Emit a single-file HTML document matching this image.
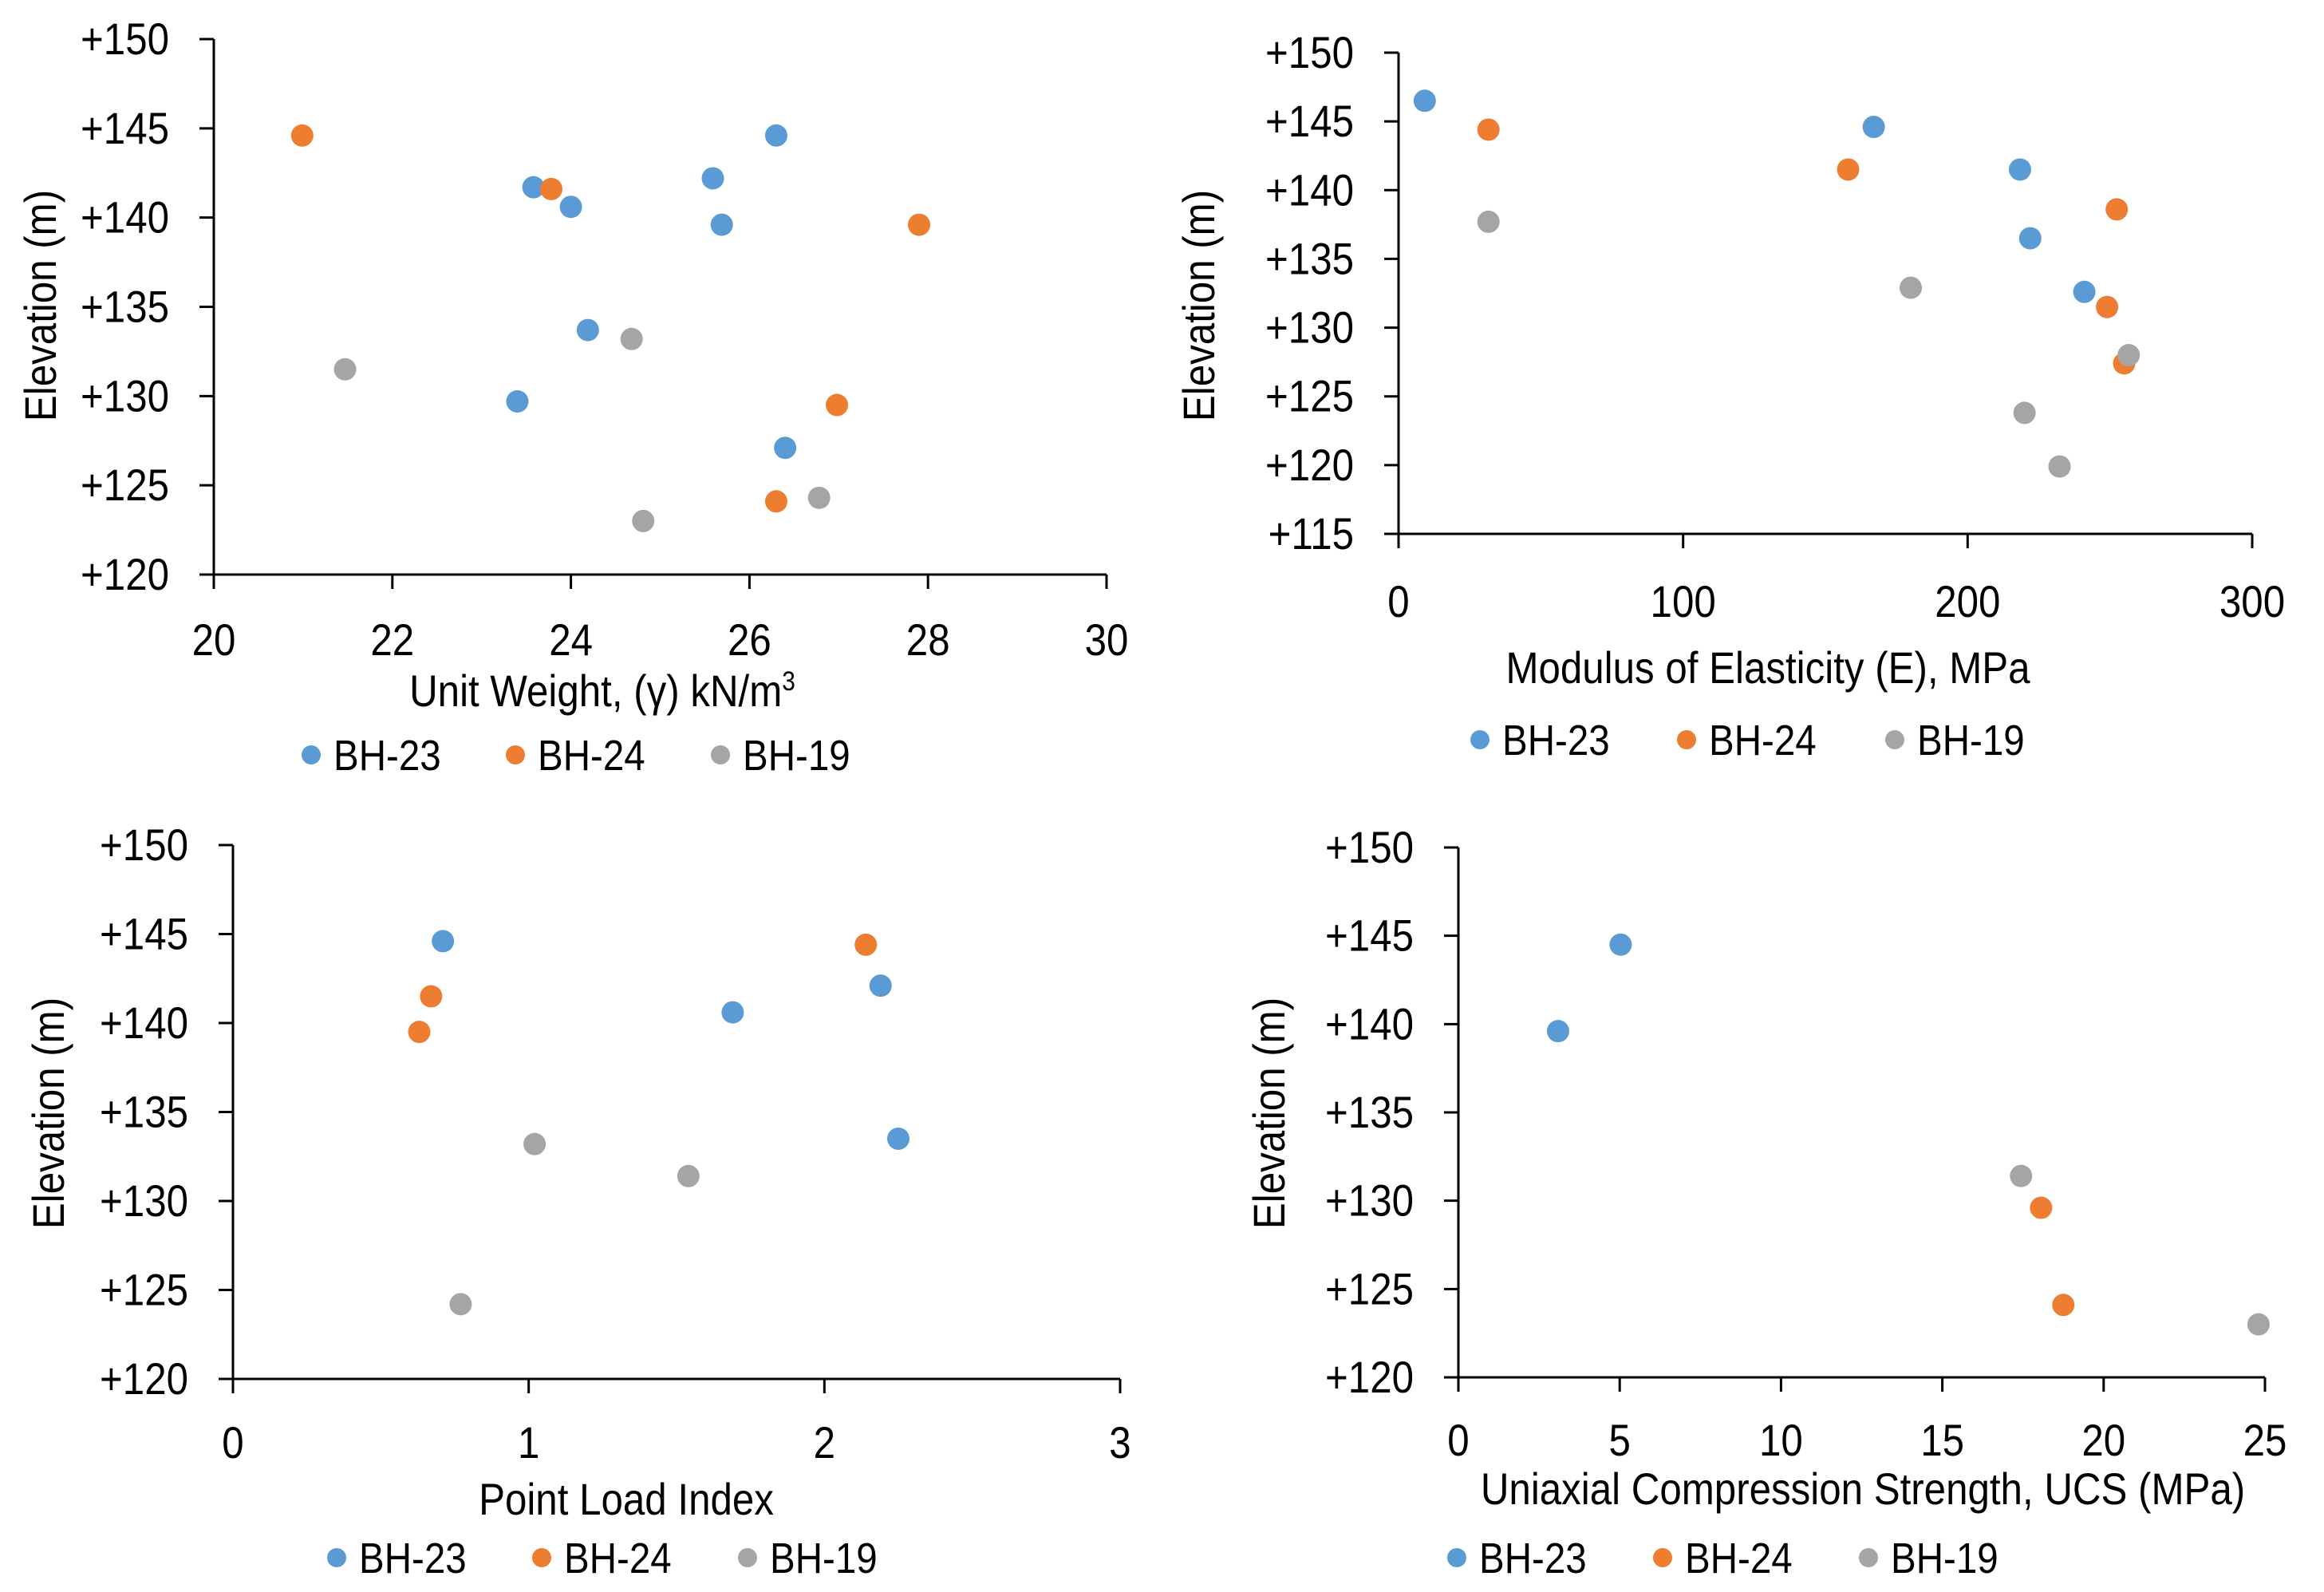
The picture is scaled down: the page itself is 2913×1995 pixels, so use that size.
<!DOCTYPE html>
<html><head><meta charset="utf-8"><style>
html,body{margin:0;padding:0;background:#fff;}
svg{display:block;font-family:"Liberation Sans",sans-serif;}
</style></head><body>
<svg id="s" width="2913" height="1995" viewBox="0 0 2913 1995"></svg>
<script>
// ---- Chart 1: Unit weight ----
const uwXTicks = [20,22,24,26,28,30];
const uwYTicks = [120,125,130,135,140,145,150];
const uwBH23x = [23.58,24.0,25.59,25.69,26.3,24.19,23.4,26.4];
const uwBH23y = [141.7,140.6,142.2,139.6,144.6,133.7,129.7,127.1];
const uwBH24x = [20.99,23.78,27.9,26.98,26.3];
const uwBH24y = [144.6,141.6,139.6,129.5,124.1];
const uwBH19x = [21.47,24.68,24.81,26.78];
const uwBH19y = [131.5,133.2,123.0,124.3];
// ---- Chart 2: Modulus ----
const eXTicks = [0,100,200,300];
const eYTicks = [115,120,125,130,135,140,145,150];
const eBH23x = [9.2,167,218.4,222,241];
const eBH23y = [146.5,144.6,141.5,136.5,132.6];
const eBH24x = [31.6,158,252.4,249,255];
const eBH24y = [144.4,141.5,138.6,131.5,127.4];
const eBH19x = [31.6,180,256.6,220,232.3];
const eBH19y = [137.7,132.9,128.0,123.8,119.9];
// ---- Chart 3: Point load ----
const plXTicks = [0,1,2,3];
const plYTicks = [120,125,130,135,140,145,150];
const plBH23x = [0.71,1.69,2.19,2.25];
const plBH23y = [144.6,140.6,142.1,133.5];
const plBH24x = [2.14,0.67,0.63];
const plBH24y = [144.4,141.5,139.5];
const plBH19x = [1.02,1.54,0.77];
const plBH19y = [133.2,131.4,124.2];
// ---- Chart 4: UCS ----
const ucsXTicks = [0,5,10,15,20,25];
const ucsYTicks = [120,125,130,135,140,145,150];
const ucsBH23x = [5.03,3.09];
const ucsBH23y = [144.5,139.6];
const ucsBH24x = [18.06,18.75];
const ucsBH24y = [129.6,124.1];
const ucsBH19x = [17.44,24.8];
const ucsBH19y = [131.4,123.0];

const NS="http://www.w3.org/2000/svg";
const svg=document.getElementById('s');
const COLORS=['#5B9BD5','#ED7D31','#A5A5A5'];
const NAMES=['BH-23','BH-24','BH-19'];
const FS=56, SX=0.88;
function mk(tag,attrs,parent){const e=document.createElementNS(NS,tag);for(const k in attrs)e.setAttribute(k,attrs[k]);(parent||svg).appendChild(e);return e;}
function txt(parent,x,y,anchor,rot){
  const t=mk('text',{x:0,y:0,'text-anchor':anchor,'font-size':FS,fill:'#000',
    transform:`translate(${x},${y})`+(rot?' rotate(-90)':'')+` scale(${SX},1)`},parent);
  return t;
}

function chart(c){
  const g=mk('g',{});
  
  
  const xmin=c.xt[0],xmax=c.xt[c.xt.length-1],ymin=c.yt[0],ymax=c.yt[c.yt.length-1];
  const sx=v=>c.x0+(v-xmin)/(xmax-xmin)*(c.x1-c.x0);
  const sy=v=>c.y1-(v-ymin)/(ymax-ymin)*(c.y1-c.y0);
  const ax=mk('path',{d:`M${c.x0},${c.y0}V${c.y1}H${c.x1}`,stroke:'#000','stroke-width':3,fill:'none'},g);
  
  
  c.yt.forEach(v=>{
    mk('line',{x1:c.x0-18,x2:c.x0,y1:sy(v),y2:sy(v),stroke:'#000','stroke-width':3},g);
    const t=txt(g,c.x0-56,sy(v)+19,'end');
    t.textContent='+'+v;
    
    
  });
  c.xt.forEach(v=>{
    mk('line',{x1:sx(v),x2:sx(v),y1:c.y1,y2:c.y1+18,stroke:'#000','stroke-width':3},g);
    const t=txt(g,sx(v),c.xly+19,'middle');
    t.textContent=v;
    
    
  });
  const xt=txt(g,c.xtx,c.xty+19,'middle');
  xt.innerHTML=c.title;
  
  
  const yt=txt(g,c.ylx+19,c.yly,'middle',true);
  yt.textContent='Elevation (m)';
  
  
  c.series.forEach((s,i)=>{
    s[0].forEach((xv,j)=>{
      const d=mk('circle',{cx:sx(xv),cy:sy(s[1][j]),r:14,fill:COLORS[i]},g);
      
      
    });
  });
  c.lx.forEach((lx,i)=>{
    const d=mk('circle',{cx:lx,cy:c.ly,r:12,fill:COLORS[i]},g);
    
    
    const t=mk('text',{x:0,y:0,'font-size':54,fill:'#000',transform:`translate(${lx+28},${c.ly+19}) scale(${SX},1)`},g);
    t.textContent=NAMES[i];
    
    
  });
}
chart({id:'unit-weight-chart',x0:268,x1:1387,y0:49,y1:720,xt:uwXTicks,yt:uwYTicks,xly:802,
  title:'Unit Weight, (γ) kN/m<tspan font-size="34" dy="-20">3</tspan>',xtx:755,xty:866,ylx:51,yly:383,
  series:[[uwBH23x,uwBH23y],[uwBH24x,uwBH24y],[uwBH19x,uwBH19y]],lx:[390,646,903],ly:946});
chart({id:'modulus-chart',x0:1753,x1:2823,y0:66,y1:669,xt:eXTicks,yt:eYTicks,xly:754,
  title:'Modulus of Elasticity (E), MPa',xtx:2216,xty:837,ylx:1503,yly:383,
  series:[[eBH23x,eBH23y],[eBH24x,eBH24y],[eBH19x,eBH19y]],lx:[1855,2114,2375],ly:927});
chart({id:'point-load-chart',x0:292,x1:1404,y0:1059,y1:1728,xt:plXTicks,yt:plYTicks,xly:1808,
  title:'Point Load Index',xtx:785,xty:1879,ylx:61,yly:1395,
  series:[[plBH23x,plBH23y],[plBH24x,plBH24y],[plBH19x,plBH19y]],lx:[422,679,937],ly:1952});
chart({id:'ucs-chart',x0:1828,x1:2839,y0:1062,y1:1726,xt:ucsXTicks,yt:ucsYTicks,xly:1805,
  title:'Uniaxial Compression Strength, UCS (MPa)',xtx:2335,xty:1866,ylx:1591,yly:1395,
  series:[[ucsBH23x,ucsBH23y],[ucsBH24x,ucsBH24y],[ucsBH19x,ucsBH19y]],lx:[1826,2084,2342],ly:1952});
</script>
</body></html>
